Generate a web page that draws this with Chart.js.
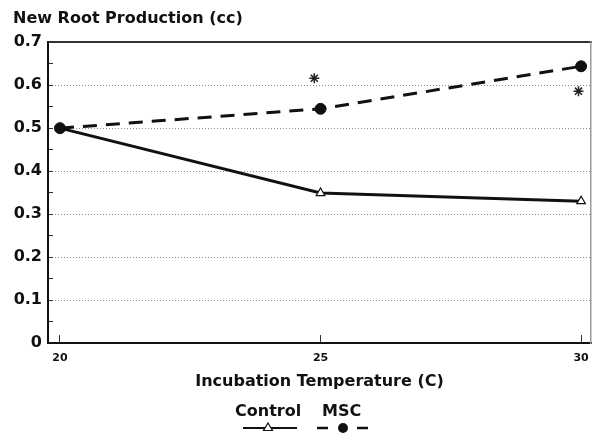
<!DOCTYPE html>
<html>
<head>
<meta charset="utf-8">
<script src="https://cdn.jsdelivr.net/npm/chart.js@4/dist/chart.umd.min.js"></script>
<style>
html,body{margin:0;padding:0;background:#fff;}
canvas{display:block;}
</style>
</head>
<body>
<canvas id="c" width="593" height="433"></canvas>
<script>
// ---- data ----
const temperatures = [20, 25, 30];
const controlValues = [0.50, 0.349, 0.33];
const mscValues = [0.50, 0.545, 0.644];
const significanceX = [24.88, 29.95];
const significanceY = [0.616, 0.586];
const xTickValues = [20, 25, 30];
const titleText = 'New Root Production (cc)';
const xTitleText = 'Incubation Temperature (C)';
const seriesNames = ['Control', 'MSC'];

const FONT = 'DejaVu Sans';
const INK = '#111';

const controlData = temperatures.map((t, i) => ({x: t, y: controlValues[i]}));
const mscData = temperatures.map((t, i) => ({x: t, y: mscValues[i]}));
const starData = significanceX.map((x, i) => ({x: x, y: significanceY[i]}));

const isMajor = v => Math.abs(Math.round(v * 100) % 10) === 0;

const legendPlugin = {
  id: 'customLegend',
  afterDraw(chart) {
    const ctx = chart.ctx;
    ctx.save();
    ctx.fillStyle = INK;
    ctx.font = 'bold 16px "' + FONT + '"';
    ctx.textBaseline = 'middle';
    ctx.textAlign = 'left';
    ctx.fillText(seriesNames[0], 235, 412);
    ctx.fillText(seriesNames[1], 322, 412);
    const y = 428;
    ctx.strokeStyle = INK;
    ctx.lineWidth = 2;
    ctx.setLineDash([]);
    ctx.beginPath(); ctx.moveTo(243, y); ctx.lineTo(297, y); ctx.stroke();
    ctx.beginPath();
    ctx.moveTo(268, y - 5); ctx.lineTo(272.5, y + 2.5); ctx.lineTo(263.5, y + 2.5); ctx.closePath();
    ctx.fillStyle = '#fff'; ctx.fill(); ctx.lineWidth = 1.2; ctx.stroke();
    ctx.lineWidth = 2.5;
    ctx.beginPath(); ctx.moveTo(317, y); ctx.lineTo(328, y); ctx.stroke();
    ctx.beginPath(); ctx.moveTo(357, y); ctx.lineTo(368, y); ctx.stroke();
    ctx.beginPath(); ctx.arc(343, y, 5, 0, Math.PI * 2); ctx.fillStyle = INK; ctx.fill();
    ctx.restore();
  }
};

new Chart(document.getElementById('c'), {
  type: 'line',
  data: {
    datasets: [
      {
        label: seriesNames[0],
        data: controlData,
        borderColor: INK,
        borderWidth: 3,
        pointStyle: 'triangle',
        pointRadius: 5,
        pointBackgroundColor: '#fff',
        pointBorderColor: INK,
        pointBorderWidth: 1.2,
        tension: 0,
        clip: false,
        order: 2
      },
      {
        label: seriesNames[1],
        data: mscData,
        borderColor: INK,
        borderWidth: 3,
        borderDash: [14, 9],
        pointStyle: 'circle',
        pointRadius: 5.5,
        pointBackgroundColor: INK,
        pointBorderColor: INK,
        pointBorderWidth: 1,
        tension: 0,
        clip: false,
        order: 1
      },
      {
        label: '*',
        data: starData,
        showLine: false,
        pointStyle: 'star',
        pointRadius: 5,
        pointBorderColor: '#222',
        pointBorderWidth: 1.5,
        clip: false
      }
    ]
  },
  options: {
    responsive: false,
    animation: false,
    devicePixelRatio: 1,
    layout: {autoPadding: false, padding: {left: 13, right: 2, top: 0, bottom: 38}},
    plugins: {
      legend: {display: false},
      tooltip: {enabled: false},
      title: {
        display: true,
        text: titleText,
        align: 'start',
        color: INK,
        font: {family: FONT, size: 16, weight: 'bold', lineHeight: 1.2},
        padding: {top: 9, bottom: 14}
      }
    },
    scales: {
      x: {
        type: 'linear',
        position: 'bottom',
        min: 19.77,
        max: 30.19,
        afterBuildTicks: s => { s.ticks = xTickValues.map(v => ({value: v})); },
        afterFit: s => { s.height = 52; s.paddingLeft = 0; s.paddingRight = 0; },
        ticks: {
          color: INK,
          padding: 17,
          maxRotation: 0,
          font: {family: FONT, size: 11, weight: 'bold'},
          callback: v => String(v)
        },
        grid: {
          drawOnChartArea: false,
          drawTicks: true,
          tickLength: -8,
          tickColor: '#333',
          tickWidth: 1
        },
        border: {display: true, color: INK, width: 2},
        title: {
          display: true,
          text: xTitleText,
          color: INK,
          font: {family: FONT, size: 16, weight: 'bold', lineHeight: 1.2},
          padding: {top: 0, bottom: 4}
        }
      },
      xTop: {
        type: 'linear',
        position: 'top',
        min: 19.77,
        max: 30.19,
        ticks: {display: false},
        grid: {drawOnChartArea: false, drawTicks: false},
        border: {display: true, color: '#333', width: 2},
        afterFit: s => { s.paddingLeft = 0; s.paddingRight = 0; }
      },
      y: {
        position: 'left',
        min: 0,
        max: 0.7,
        afterFit: s => { s.width = 35; },
        ticks: {
          stepSize: 0.05,
          autoSkip: false,
          color: INK,
          padding: 11,
          font: {family: FONT, size: 16, weight: 'bold'},
          callback: v => {
            if (!isMajor(v)) return '';
            return v === 0 ? '0' : v.toFixed(1);
          }
        },
        grid: {
          drawTicks: true,
          tickLength: -5,
          lineWidth: 1,
          color: c => {
            const v = c.tick ? c.tick.value : 0;
            if (!isMajor(v) || v < 0.05 || v > 0.65) return 'rgba(0,0,0,0)';
            return '#8a8a8a';
          },
          tickColor: '#333',
          tickWidth: 1
        },
        border: {display: true, color: INK, width: 2, dash: [1, 2]}
      },
      yRight: {
        position: 'right',
        min: 0,
        max: 0.7,
        ticks: {display: false},
        grid: {drawOnChartArea: false, drawTicks: false},
        border: {display: true, color: '#9a9a9a', width: 1.5},
        afterFit: s => { s.width = 0; }
      }
    }
  },
  plugins: [legendPlugin]
});
</script>
</body>
</html>
